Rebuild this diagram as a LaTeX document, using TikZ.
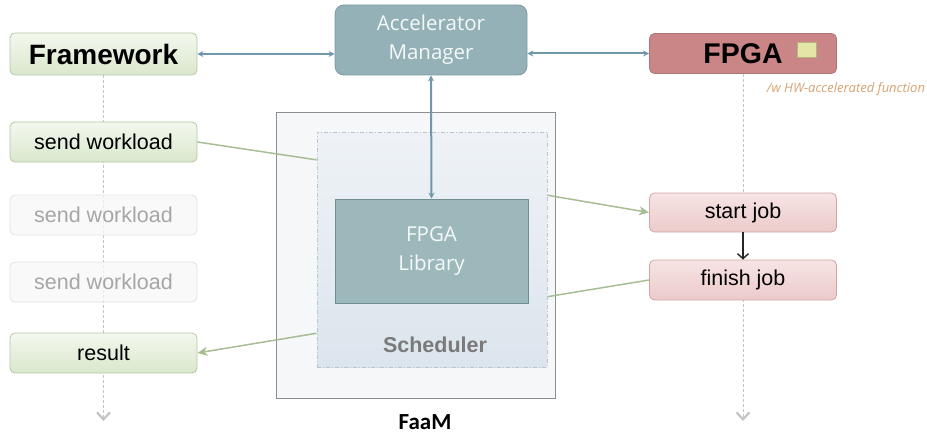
\documentclass[tikz,border=0pt]{standalone}
\usepackage{fontspec}
\setmainfont{Liberation Sans}
\newfontfamily\osfont{Open Sans}
\newfontfamily\cbfont{Carlito}
\usetikzlibrary{arrows.meta, positioning, calc, backgrounds}

\definecolor{greenTop}{HTML}{F3F8EE}
\definecolor{greenBot}{HTML}{DAE7CC}
\definecolor{greenLine}{HTML}{B4C8A4}
\definecolor{pinkTop}{HTML}{F7E4E4}
\definecolor{pinkBot}{HTML}{ECCACA}
\definecolor{pinkLine}{HTML}{D4A5A5}
\definecolor{fpgaRed}{HTML}{CA8686}
\definecolor{fpgaLine}{HTML}{B07474}
\definecolor{tealFill}{HTML}{93B1B6}
\definecolor{tealLine}{HTML}{7C9BA1}
\definecolor{libFill}{HTML}{9DB8BB}
\definecolor{libLine}{HTML}{6E8E93}
\definecolor{blueArrow}{HTML}{6F98AC}
\definecolor{greenArrow}{HTML}{A7BD94}
\definecolor{fadeFill}{HTML}{F7F7F7}
\definecolor{fadeLine}{HTML}{E2E2E2}
\definecolor{fadeText}{HTML}{A6A6A6}
\definecolor{faamFill}{HTML}{F5F7F9}
\definecolor{faamLine}{HTML}{8C8F92}
\definecolor{schedTop}{HTML}{EEF2F6}
\definecolor{schedBot}{HTML}{DCE5ED}
\definecolor{schedLine}{HTML}{B9C4CC}
\definecolor{lifeGray}{HTML}{C4C4C4}
\definecolor{noteOrange}{HTML}{D6A272}
\definecolor{hwYellow}{HTML}{E4E6A8}
\definecolor{hwLine}{HTML}{B5B37E}

\tikzset{
  greenbox/.style={draw=greenLine, line width=0.8pt, rounded corners=5pt,
    top color=greenTop, bottom color=greenBot,
    minimum width=187pt, minimum height=40pt, font=\fontsize{21.5}{24}\selectfont},
  fadebox/.style={draw=fadeLine, line width=0.8pt, rounded corners=5pt,
    fill=fadeFill, fill opacity=0.75, text opacity=1, text=fadeText,
    minimum width=187pt, minimum height=40pt, font=\fontsize{21.5}{24}\selectfont},
  pinkbox/.style={draw=pinkLine, line width=0.8pt, rounded corners=5pt,
    top color=pinkTop, bottom color=pinkBot,
    minimum width=187pt, minimum height=40pt, font=\fontsize{21.5}{24}\selectfont},
  tealbox/.style={draw=tealLine, line width=0.8pt, fill=tealFill, text=white!92!tealFill,
    align=center, font=\osfont\fontsize{20.5}{29}\selectfont},
  lifeline/.style={draw=lifeGray, line width=0.9pt, dash pattern=on 3pt off 2pt,
    -{Straight Barb[length=7pt,width=13pt,line width=2.2pt]}},
  bluearrow/.style={draw=blueArrow, line width=2pt,
    {Stealth[length=6pt,width=6pt]}-{Stealth[length=6pt,width=6pt]}},
  greenarrow/.style={draw=greenArrow, line width=1.5pt},
  greentip/.style={-{Stealth[length=10pt,width=9pt,inset=3pt]}}
}

\begin{document}
\begin{tikzpicture}[x=1pt, y=-1pt]
\useasboundingbox (0,0) rectangle (927,436);

% FaaM block
\node[draw=faamLine, line width=0.9pt, fill=faamFill, minimum width=279pt, minimum height=286pt] (faam) at (415.5,255) {};
\node[draw=schedLine, line width=0.9pt, dash pattern=on 4pt off 2pt on 1pt off 2pt,
  top color=schedTop, bottom color=schedBot, minimum width=230pt, minimum height=235pt] (sched) at (432,249.5) {};
\node[tealbox, draw=libLine, fill=libFill, minimum width=193pt, minimum height=104pt] (lib) at (431.5,251) {FPGA\\Library};
\node[font=\bfseries\fontsize{21.5}{24}\selectfont, text=black!52] (schedlbl) at (435,345) {Scheduler};
\node[font=\cbfont\bfseries\fontsize{23}{26}\selectfont] (faamlbl) at (425,422) {FaaM};

% Top row
\node[tealbox, rounded corners=9pt, minimum width=192pt, minimum height=70pt] (am) at (431,40) {Accelerator\\Manager};
\node[greenbox, minimum height=42pt, font=\bfseries\fontsize{28}{32}\selectfont] (fw) at (103.5,54) {Framework};
\node[draw=fpgaLine, line width=0.8pt, rounded corners=5pt, fill=fpgaRed,
  minimum width=187pt, minimum height=40pt, font=\bfseries\fontsize{28.5}{32}\selectfont] (fpga) at (743,53.5) {FPGA};
\node[draw=hwLine, fill=hwYellow, minimum width=19pt, minimum height=15pt, inner sep=0pt] (hwsq) at (807,50) {};
\node[font=\osfont\itshape\fontsize{13}{15}\selectfont, text=noteOrange] (note) at (846,89) {/w HW-accelerated function};

% Framework column
\node[greenbox] (sw1) at (103.5,142) {send workload};
\node[fadebox] (sw2) at (103.5,215) {send workload};
\node[fadebox] (sw3) at (103.5,282) {send workload};
\node[greenbox] (res) at (103.5,353) {result};

% FPGA column
\node[pinkbox, minimum height=39pt] (start) at (743,212.5) {start job};
\node[pinkbox] (finish) at (743,280) {finish job};

% Lifelines
\coordinate (fwend) at (103.5,421);
\coordinate (fpgaend) at (743,421);
\begin{scope}[on background layer]
\draw[lifeline] (fw.south) -- (fwend);
\draw[lifeline] (fpga.south) -- (fpgaend);
\end{scope}

% Manager links
\draw[bluearrow] (fw.east) -- (fw.east -| am.west);
\draw[bluearrow] (am.east |- fpga.west) -- (fpga.west);
\draw[bluearrow] (am.south) -- (lib.north);

% Workload flow
\draw[greenarrow] (sw1.east) -- ($(sched.north west)!0.12!(sched.south west)$);
\draw[greenarrow, greentip] ($(sched.north east)!0.27!(sched.south east)$) -- (start.west);
\draw[draw=black!85, line width=1.4pt, -{Straight Barb[length=5pt,width=11pt]}] (start.south) -- (finish.north);
\draw[greenarrow] (finish.west) -- ($(sched.north east)!0.70!(sched.south east)$);
\draw[greenarrow, greentip] ($(sched.north west)!0.855!(sched.south west)$) -- (res.east);
\end{tikzpicture}
\end{document}
